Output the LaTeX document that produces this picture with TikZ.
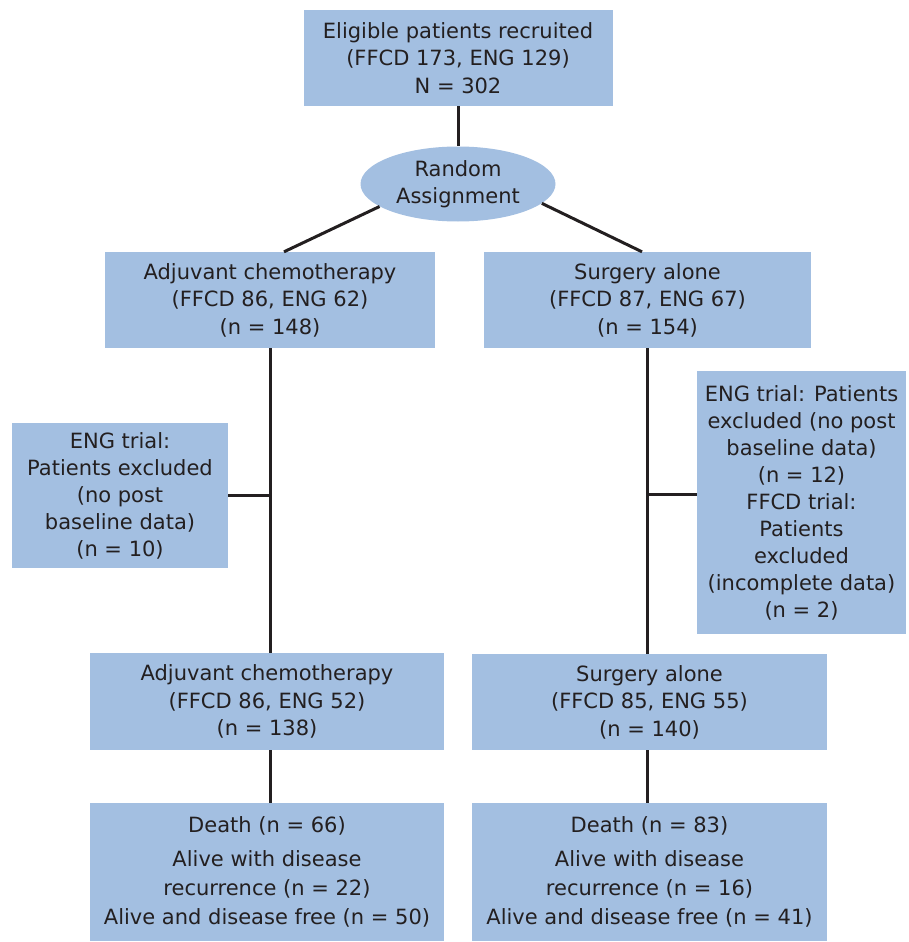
\documentclass[tikz,border=0pt]{standalone}
\usepackage{fontspec}
\setmainfont{DejaVu Sans}
\usetikzlibrary{shapes.geometric}
\definecolor{boxblue}{RGB}{163,191,225}
\definecolor{linegray}{RGB}{35,31,32}
\begin{document}
\begin{tikzpicture}[x=1pt,y=-1pt,
  box/.style={rectangle, fill=boxblue, inner sep=2pt, align=center,
              font=\fontsize{21}{27.5}\selectfont, text=linegray},
  conn/.style={draw=linegray, line width=3pt},
]
\useasboundingbox (0,0) rectangle (908,942);

\node[box, minimum width=309pt, minimum height=96pt] (top) at (458,58)
  {Eligible patients recruited\\(FFCD 173, ENG 129)\\N = 302};
\node[box, ellipse, minimum width=195pt, minimum height=75pt, inner sep=0pt] (rand) at (458,184)
  {Random\\Assignment};
\node[box, minimum width=330pt, minimum height=96pt] (adj1) at (270,300)
  {Adjuvant chemotherapy\\(FFCD 86, ENG 62)\\(n = 148)};
\node[box, minimum width=327pt, minimum height=96pt] (sur1) at (647.5,300)
  {Surgery alone\\(FFCD 87, ENG 67)\\(n = 154)};
\node[box, minimum width=216pt, minimum height=145pt, font=\fontsize{21}{27}\selectfont] (exL) at (120,495.5)
  {ENG trial:\\Patients excluded\\(no post\\baseline data)\\(n = 10)};
\node[box, minimum width=209pt, minimum height=263pt, font=\fontsize{21}{27}\selectfont] (exR) at (801.5,502.5)
  {ENG trial: Patients\\excluded (no post\\baseline data)\\(n = 12)\\FFCD trial:\\Patients\\excluded\\(incomplete data)\\(n = 2)};
\node[box, minimum width=354pt, minimum height=97pt] (adj2) at (267,701.5)
  {Adjuvant chemotherapy\\(FFCD 86, ENG 52)\\(n = 138)};
\node[box, minimum width=355pt, minimum height=96pt] (sur2) at (649.5,702)
  {Surgery alone\\(FFCD 85, ENG 55)\\(n = 140)};
\node[box, minimum width=354pt, minimum height=138pt, font=\fontsize{21}{29}\selectfont] (dL) at (267,872)
  {Death (n = 66)\\[5pt]Alive with disease\\recurrence (n = 22)\\Alive and disease free (n = 50)};
\node[box, minimum width=355pt, minimum height=138pt, font=\fontsize{21}{29}\selectfont] (dR) at (649.5,872)
  {Death (n = 83)\\[5pt]Alive with disease\\recurrence (n = 16)\\Alive and disease free (n = 41)};

\draw[conn] (top) -- (rand);
\draw[conn] (rand.196) -- ([xshift=14pt]adj1.north);
\draw[conn] (rand.347) -- ([xshift=-5.5pt]sur1.north);
\draw[conn] (adj1.south) -- (adj1.south |- adj2.north);
\draw[conn] (sur1.south) -- (sur1.south |- sur2.north);
\draw[conn] (exL.east) -- (exL.east -| adj1.south);
\coordinate (exRc) at ([yshift=8pt]exR.west);
\draw[conn] (exRc) -- (exRc -| sur1.south);
\draw[conn] (adj1.south |- adj2.south) -- (adj1.south |- dL.north);
\draw[conn] (sur1.south |- sur2.south) -- (sur1.south |- dR.north);
\end{tikzpicture}
\end{document}
